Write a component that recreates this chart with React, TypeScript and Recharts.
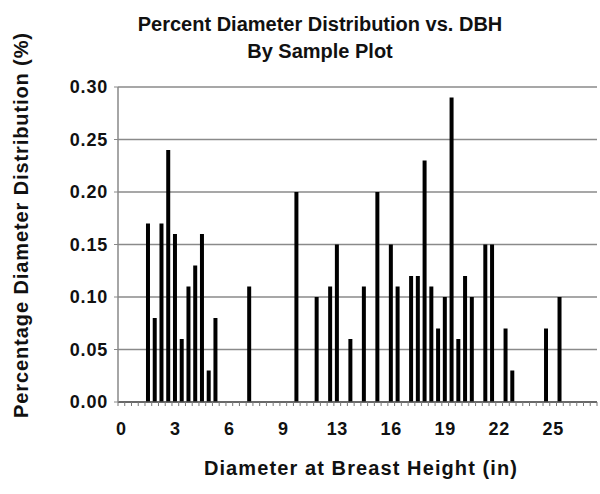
import React from 'react';
import { BarChart, Bar, XAxis, YAxis, CartesianGrid } from 'recharts';

// DBH classes (1 cm steps expressed in inches)
const dbhInches = [
  0.0, 0.39, 0.79, 1.18, 1.57, 1.97, 2.36, 2.76, 3.15, 3.54, 3.94, 4.33, 4.72, 5.12, 5.51,
  5.91, 6.3, 6.69, 7.09, 7.48, 7.87, 8.27, 8.66, 9.06, 9.45, 9.84, 10.24, 10.63, 11.02, 11.42,
  11.81, 12.2, 12.6, 12.99, 13.39, 13.78, 14.17, 14.57, 14.96, 15.35, 15.75, 16.14, 16.54, 16.93,
  17.32, 17.72, 18.11, 18.5, 18.9, 19.29, 19.69, 20.08, 20.47, 20.87, 21.26, 21.65, 22.05, 22.44,
  22.83, 23.23, 23.62, 24.02, 24.41, 24.8, 25.2, 25.59, 25.98, 26.38, 26.77, 27.17, 27.56,
];

// Percentage diameter distribution per class
const pctDist = [
  0, 0, 0, 0, 0.17, 0.08, 0.17, 0.24, 0.16, 0.06, 0.11, 0.13, 0.16, 0.03, 0.08,
  0, 0, 0, 0, 0.11, 0, 0, 0, 0, 0, 0, 0.2, 0, 0, 0.1,
  0, 0.11, 0.15, 0, 0.06, 0, 0.11, 0, 0.2, 0, 0.15, 0.11, 0, 0.12,
  0.12, 0.23, 0.11, 0.07, 0.1, 0.29, 0.06, 0.12, 0.1, 0, 0.15, 0.15, 0, 0.07,
  0.03, 0, 0, 0, 0, 0.07, 0, 0.1, 0, 0, 0, 0, 0,
];

const yTicks = [0, 0.05, 0.1, 0.15, 0.2, 0.25, 0.3];
const LABEL_EVERY = 8;

const data = dbhInches.map((d, i) => ({ dbh: d, pct: pctDist[i] }));

const FONT = '"Liberation Sans", Arial, Helvetica, sans-serif';
const TICK_MARGIN = 20;

function CatTick(props: any) {
  const { x, y, payload, index } = props;
  const half = payload && payload.offset ? payload.offset : 0;
  const axisY = y - TICK_MARGIN;
  const isLast = index === dbhInches.length - 1;
  return (
    <g>
      <line x1={x - half} x2={x - half} y1={axisY} y2={axisY + 4} stroke="#777" strokeWidth={1} />
      {isLast && (
        <line x1={x + half} x2={x + half} y1={axisY} y2={axisY + 4} stroke="#777" strokeWidth={1} />
      )}
      {index % LABEL_EVERY === 0 && (
        <text
          x={x}
          y={y}
          dy="0.71em"
          textAnchor="middle"
          fontSize={18}
          fontWeight="bold"
          fill="#111"
          fontFamily={FONT}
          letterSpacing={0.6}
        >
          {String(Math.round(payload.value))}
        </text>
      )}
    </g>
  );
}

export default function App() {
  return (
    <div style={{ position: 'absolute', left: 0, top: 0, width: 600, height: 494, background: '#fff', fontFamily: FONT }}>
      <div
        style={{
          position: 'absolute', left: 40, top: 11, width: 560, textAlign: 'center',
          fontWeight: 'bold', fontSize: 20, lineHeight: '27px', color: '#111',
        }}
      >
        <div>Percent Diameter Distribution vs. DBH</div>
        <div>By Sample Plot</div>
      </div>
      <BarChart
        width={600}
        height={494}
        data={data}
        margin={{ top: 87, right: 3, bottom: 32, left: 0 }}
        barCategoryGap={0}
      >
        <CartesianGrid vertical={false} stroke="#8a8a8a" strokeWidth={1.5} />
        <XAxis
          dataKey="dbh"
          type="category"
          interval={0}
          height={60}
          axisLine={{ stroke: '#555', strokeWidth: 1.5 }}
          tickLine={false}
          tickSize={0}
          tickMargin={TICK_MARGIN}
          tick={(p: any) => <CatTick {...p} />}
        />
        <YAxis
          domain={[0, 0.3]}
          ticks={yTicks}
          width={118}
          tickSize={4}
          tickMargin={6}
          tickFormatter={(v: number) => v.toFixed(2)}
          axisLine={{ stroke: '#888', strokeWidth: 1.5 }}
          tickLine={{ stroke: '#888' }}
          tick={{ fontSize: 18, fontWeight: 'bold', fill: '#111', fontFamily: FONT, letterSpacing: 0.8 }}
        />
        <Bar dataKey="pct" fill="#000" barSize={4} isAnimationActive={false} />
      </BarChart>
      <div style={{ position: 'absolute', left: 21, top: 225, width: 0, height: 0 }}>
        <div
          style={{
            position: 'absolute', left: -250, top: -13, width: 500, textAlign: 'center',
            transform: 'rotate(-90deg)', fontWeight: 'bold', fontSize: 20, lineHeight: '26px', color: '#111',
            whiteSpace: 'nowrap', letterSpacing: 0.9,
          }}
        >
          Percentage Diameter Distribution (%)
        </div>
      </div>
      <div
        style={{
          position: 'absolute', left: 111, top: 455, width: 500, textAlign: 'center',
          fontWeight: 'bold', fontSize: 20, lineHeight: '26px', color: '#111', letterSpacing: 1.1,
        }}
      >
        Diameter at Breast Height (in)
      </div>
    </div>
  );
}
